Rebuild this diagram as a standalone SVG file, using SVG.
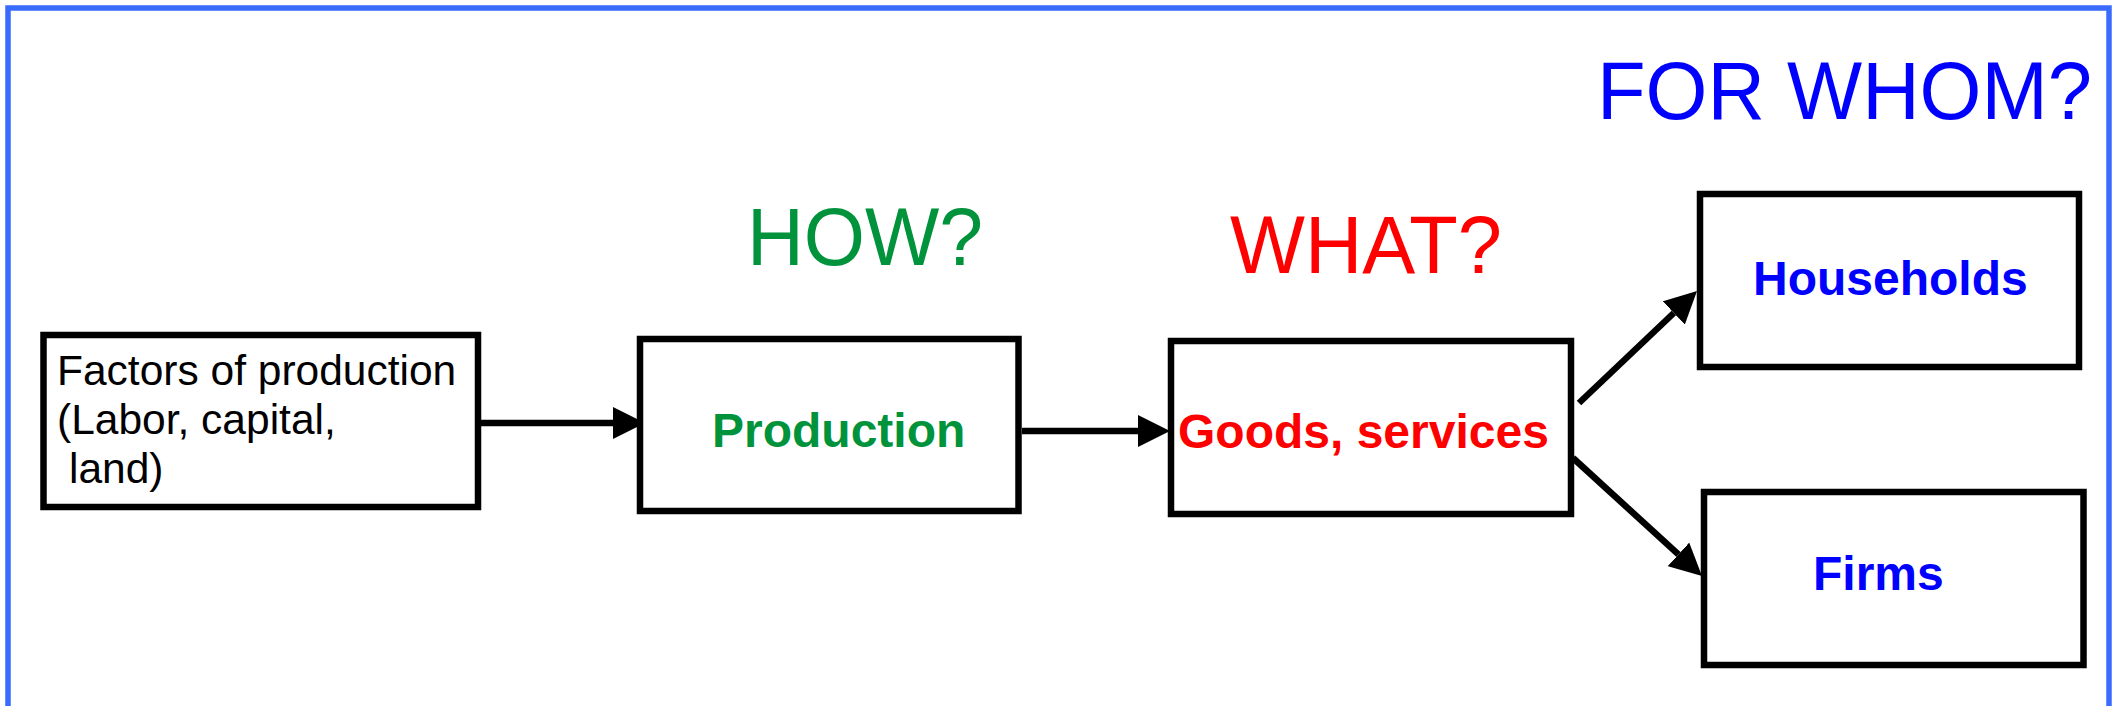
<svg xmlns="http://www.w3.org/2000/svg" width="2117" height="706" viewBox="0 0 2117 706">
  <style>
    .box { fill: #ffffff; stroke: #000000; stroke-width: 6.5; }
    .conn { stroke: #000000; stroke-width: 6.5; fill: none; marker-end: url(#head); }
    .plain { font-family: "Liberation Sans", Arial, sans-serif; font-size: 42.5px; fill: #000000; }
    .bold { font-family: "Liberation Sans", Arial, sans-serif; font-size: 48px; font-weight: bold; }
    .big { font-family: "Liberation Sans", Arial, sans-serif; font-size: 81px; }
    .green { fill: #00933c; }
    .red { fill: #ff0000; }
    .blue { fill: #0000ff; }
  </style>
  <defs>
    <marker id="head" markerUnits="userSpaceOnUse" viewBox="0 0 32 32" refX="0" refY="16" markerWidth="32" markerHeight="32" orient="auto">
      <path d="M0,0 L32,16 L0,32 Z" fill="#000000"/>
    </marker>
  </defs>

  <rect width="2117" height="706" fill="#ffffff"/>
  <!-- slide frame -->
  <rect x="8" y="8" width="2101" height="800" fill="none" stroke="#3a6bff" stroke-width="5.5"/>

  <!-- question headings -->
  <text class="big green" x="747" y="265" textLength="236" lengthAdjust="spacingAndGlyphs">HOW?</text>
  <text class="big red" x="1230" y="273" textLength="272" lengthAdjust="spacingAndGlyphs">WHAT?</text>
  <text class="big blue" x="1597" y="119" textLength="495" lengthAdjust="spacingAndGlyphs" font-size="83">FOR WHOM?</text>

  <g id="connectors">
    <line class="conn" x1="481" y1="423" x2="613" y2="423"/>
    <line class="conn" x1="1022" y1="431" x2="1138" y2="431"/>
    <line class="conn" x1="1579" y1="403" x2="1673.8" y2="313"/>
    <line class="conn" x1="1573" y1="458" x2="1678.4" y2="554.4"/>
  </g>

  <g id="factors">
    <rect class="box" x="43.5" y="335" width="434.5" height="172"/>
    <text class="plain" x="57" y="385">Factors of production</text>
    <text class="plain" x="57" y="434">(Labor, capital,</text>
    <text class="plain" x="69" y="483">land)</text>
  </g>

  <g id="production">
    <rect class="box" x="640" y="339" width="378.5" height="172"/>
    <text class="bold green" x="712" y="447">Production</text>
  </g>

  <g id="goods">
    <rect class="box" x="1171" y="341" width="400" height="173"/>
    <text class="bold red" x="1178" y="448">Goods, services</text>
  </g>

  <g id="households">
    <rect class="box" x="1700" y="194" width="379" height="173"/>
    <text class="bold blue" x="1753" y="295">Households</text>
  </g>

  <g id="firms">
    <rect class="box" x="1704" y="492" width="379.5" height="173"/>
    <text class="bold blue" x="1813" y="590">Firms</text>
  </g>
</svg>
